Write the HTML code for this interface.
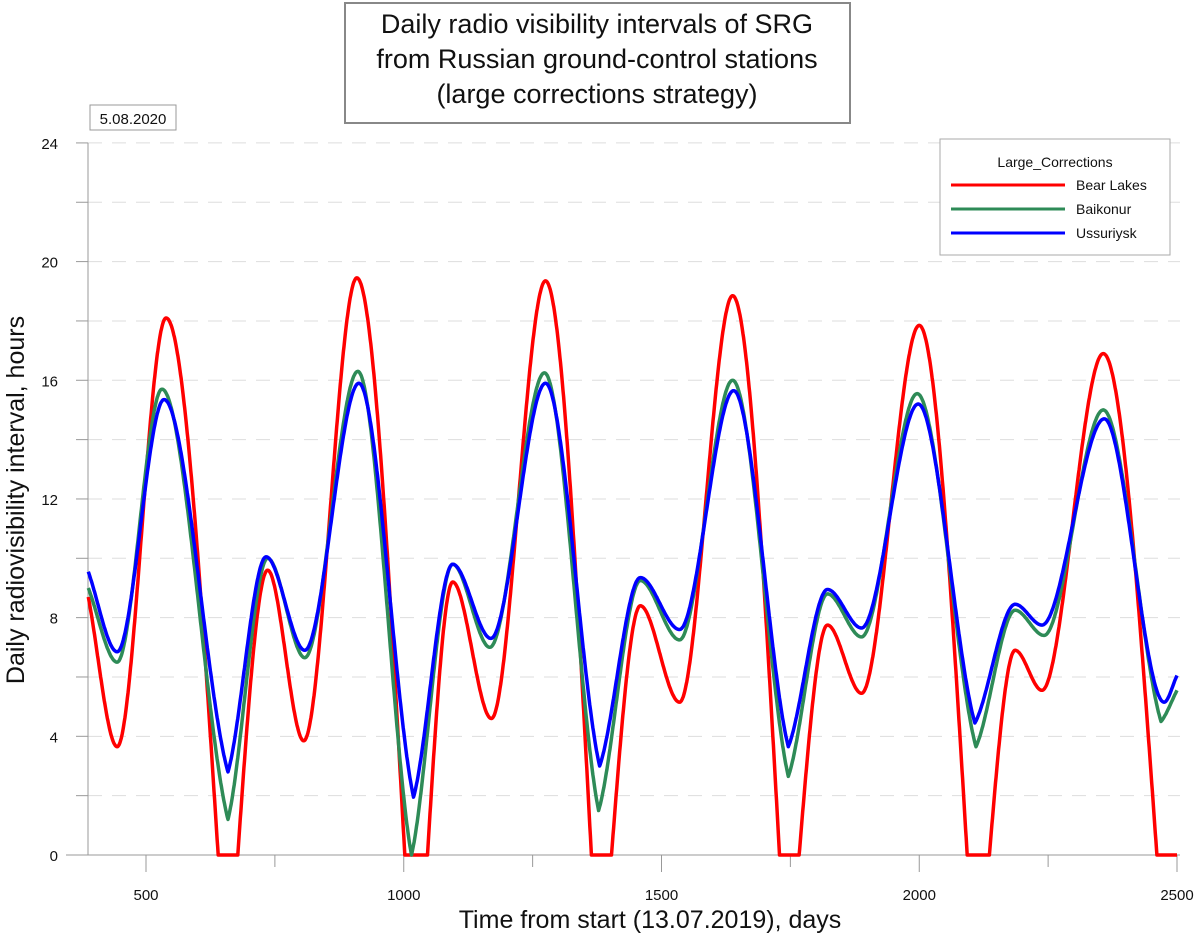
<!DOCTYPE html>
<html><head><meta charset="utf-8"><style>
body{margin:0;background:#fff;}
svg{display:block;font-family:"Liberation Sans",Arial,sans-serif;}
</style></head><body>
<svg id="chart" width="1200" height="945">
<rect x="345" y="3" width="505" height="120" fill="#fff" stroke="#888" stroke-width="2"/>
<text x="597" y="33" font-size="27" text-anchor="middle" fill="#111">Daily radio visibility intervals of SRG</text>
<text x="597" y="68" font-size="27" text-anchor="middle" fill="#111">from Russian ground-control stations</text>
<text x="597" y="103" font-size="27" text-anchor="middle" fill="#111">(large corrections strategy)</text>
<rect x="90" y="105" width="86" height="25" fill="#fff" stroke="#999" stroke-width="1"/>
<text x="133" y="124" font-size="15" text-anchor="middle" fill="#111">5.08.2020</text>
<g id="grid"></g>
<g id="axes"></g>
<g id="series"></g>
<text transform="translate(24,500) rotate(-90)" font-size="25" text-anchor="middle" fill="#111">Daily radiovisibility interval, hours</text>
<text x="650" y="928" font-size="25" text-anchor="middle" fill="#111">Time from start (13.07.2019), days</text>
<g>
<rect x="940" y="139" width="230" height="116" fill="#fff" stroke="#aaa" stroke-width="1"/>
<text x="1055" y="167" font-size="14" text-anchor="middle" fill="#111">Large_Corrections</text>
<line x1="951" y1="185" x2="1065" y2="185" stroke="#ff0000" stroke-width="3"/>
<text x="1076" y="190" font-size="14" fill="#111">Bear Lakes</text>
<line x1="951" y1="209" x2="1065" y2="209" stroke="#2e8b57" stroke-width="3"/>
<text x="1076" y="214" font-size="14" fill="#111">Baikonur</text>
<line x1="951" y1="233" x2="1065" y2="233" stroke="#0000ff" stroke-width="3"/>
<text x="1076" y="238" font-size="14" fill="#111">Ussuriysk</text>
</g>
</svg>
<script>
const yTickLabels=[0,4,8,12,16,20,24];
const xTickLabels=[500,1000,1500,2000,2500];
const bearDays=[388,444,539,640,678,736,806,909,1002,1046,1095,1170,1275,1364,1403,1459,1535,1638,1729,1767,1822,1888,2000,2093,2136,2186,2238,2357,2461,2500];
const bearVals=[8.7,3.65,18.1,0,0,9.6,3.85,19.45,0,0,9.2,4.6,19.35,0,0,8.4,5.15,18.85,0,0,7.75,5.45,17.85,0,0,6.9,5.55,16.9,0,0];
const baikDays=[388,444,531,659,736,808,911,1015,1095,1167,1273,1378,1459,1535,1638,1746,1822,1888,1996,2110,2186,2242,2357,2469,2500];
const baikVals=[9.0,6.5,15.7,1.2,10.0,6.65,16.3,0,9.8,7.0,16.25,1.5,9.25,7.25,16.0,2.65,8.8,7.35,15.55,3.65,8.25,7.4,15.0,4.5,5.55];
const ussDays=[388,444,535,659,733,808,913,1019,1095,1169,1275,1380,1459,1535,1640,1746,1822,1888,1998,2108,2186,2238,2359,2475,2500];
const ussVals=[9.55,6.85,15.35,2.8,10.05,6.9,15.9,1.95,9.8,7.3,15.9,3.0,9.35,7.6,15.65,3.65,8.95,7.65,15.2,4.45,8.45,7.75,14.7,5.15,6.05];

const X0=88,X1=1180;
function xS(d){return 146+(d-500)*0.5155;}
function yS(v){return 855-v*29.67;}
const NS='http://www.w3.org/2000/svg';
function mk(t,a,p){const e=document.createElementNS(NS,t);for(const k in a)e.setAttribute(k,a[k]);p.appendChild(e);return e;}
const grid=document.getElementById('grid'),axes=document.getElementById('axes'),ser=document.getElementById('series');
for(let v=2;v<=24;v+=2){
  const l=mk('line',{x1:X0,x2:X1,y1:yS(v),y2:yS(v),stroke:'#ddd','stroke-width':1,'stroke-dasharray':'14,10'},grid);
  
  
  const t=mk('line',{x1:X0-12,x2:X0,y1:yS(v),y2:yS(v),stroke:'#999','stroke-width':1},axes);
  
  
}
const ya=mk('line',{x1:X0,x2:X0,y1:yS(24),y2:yS(0),stroke:'#999','stroke-width':1},axes);


const xa=mk('line',{x1:X0-22,x2:X1,y1:yS(0),y2:yS(0),stroke:'#999','stroke-width':1},axes);


yTickLabels.forEach(v=>{
  const t=mk('text',{x:X0-30,y:yS(v)+6,'font-size':15,'text-anchor':'end',fill:'#111'},axes);
  t.textContent=v;
  
  
});
for(let d=500;d<=2500;d+=250){
  const major=d%500===0;
  const t=mk('line',{x1:xS(d),x2:xS(d),y1:yS(0),y2:yS(0)+(major?17:12),stroke:'#999','stroke-width':1},axes);
  
  
}
xTickLabels.forEach(d=>{
  const t=mk('text',{x:xS(d),y:yS(0)+45,'font-size':15,'text-anchor':'middle',fill:'#111'},axes);
  t.textContent=d;
  
  
});
// Hermite interpolation with left/right tangents (cusps allowed)
function interp(xs,ys,cuspBelow){
  const n=xs.length,d=[],mL=new Array(n),mR=new Array(n);
  for(let i=0;i<n-1;i++)d.push((ys[i+1]-ys[i])/(xs[i+1]-xs[i]));
  mL[0]=mR[0]=d[0];mL[n-1]=mR[n-1]=d[n-2];
  for(let i=1;i<n-1;i++){
    const a=d[i-1],b=d[i];
    if(a===0&&b===0){mL[i]=mR[i]=0;}
    else if(b===0&&ys[i]===0){mL[i]=1.5*a;mR[i]=0;}
    else if(a===0&&ys[i]===0){mL[i]=0;mR[i]=1.5*b;}
    else if(a<0&&b>0&&ys[i]<cuspBelow){mL[i]=0.6*a;mR[i]=0.6*b;}
    else if(a*b<=0){mL[i]=mR[i]=0;}
    else{mL[i]=mR[i]=(a+b)/2;}
  }
  return function(x){
    let i=0;while(i<n-2&&x>xs[i+1])i++;
    const h=xs[i+1]-xs[i],t=(x-xs[i])/h,t2=t*t,t3=t2*t;
    return (2*t3-3*t2+1)*ys[i]+(t3-2*t2+t)*h*mR[i]+(-2*t3+3*t2)*ys[i+1]+(t3-t2)*h*mL[i+1];
  };
}
function draw(days,vals,color,name,cusp){
  const f=interp(days,vals,cusp);let p='';
  const last=days[days.length-1];
  for(let d=days[0];d<=last+0.01;d+=1){
    const v=Math.max(0,f(Math.min(d,last)));
    p+=(p?'L':'M')+xS(d).toFixed(1)+','+yS(v).toFixed(1);
  }
  const e=mk('path',{d:p,fill:'none',stroke:color,'stroke-width':3.5,'stroke-linejoin':'round'},ser);
  
  
}
draw(bearDays,bearVals,'#ff0000','series-bear-lakes',0);
draw(baikDays,baikVals,'#2e8b57','series-baikonur',5);
draw(ussDays,ussVals,'#0000ff','series-ussuriysk',5);
</script>
</body></html>
